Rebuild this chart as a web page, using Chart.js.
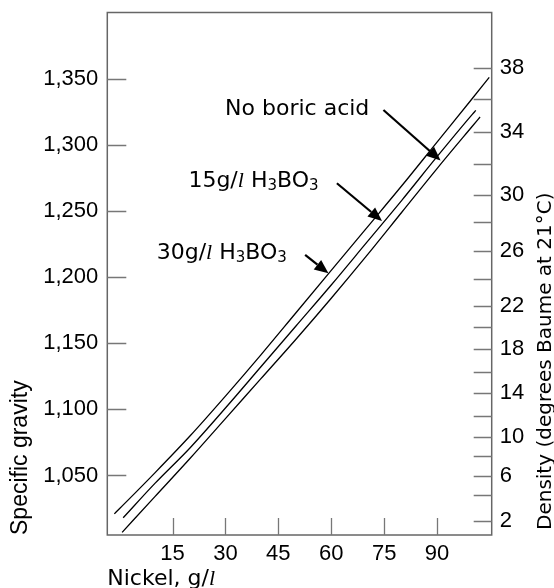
<!DOCTYPE html>
<html>
<head>
<meta charset="utf-8">
<script src="https://cdn.jsdelivr.net/npm/chart.js@4.4.3/dist/chart.umd.min.js"></script>
<style>
  html, body { margin: 0; padding: 0; background: #fff; }
  #wrap { width: 554px; height: 588px; position: relative; }
</style>
</head>
<body>
<div id="wrap"><canvas id="myChart"></canvas></div>
<script>
// nickel (g/l) and specific gravity
const nickelNone = [0.7, 10, 20, 30, 40, 50, 60, 70, 80, 90, 100, 102.2]
const sgNone = [1.007, 1.034, 1.063, 1.093, 1.123, 1.153, 1.184, 1.216, 1.249, 1.282, 1.314, 1.321]
const nickel15 = [1, 10, 20, 30, 40, 50, 60, 70, 80, 90, 100, 101]
const sg15 = [1.018, 1.044, 1.071, 1.101, 1.132, 1.163, 1.194, 1.226, 1.258, 1.291, 1.323, 1.326]
const nickel30 = [-1.5, 0, 10, 20, 30, 40, 50, 60, 70, 80, 90, 100, 104.8]
const sg30 = [1.021, 1.025, 1.052, 1.080, 1.110, 1.141, 1.173, 1.205, 1.237, 1.269, 1.302, 1.335, 1.351]

// axis ticks
const xTicks = [15, 30, 45, 60, 75, 90]
const sgTicks = [1.05, 1.10, 1.15, 1.20, 1.25, 1.30, 1.35]
// Baume ticks on the right axis and the specific gravity each one sits at
const baumeTicks = [2, 4, 6, 8, 10, 12, 14, 16, 18, 20, 22, 24, 26, 28, 30, 32, 34, 36, 38]
const baumeAtSg = [1.0158, 1.0350, 1.0496, 1.0649, 1.0791, 1.0952, 1.1126, 1.1284, 1.1456, 1.1620,
  1.1783, 1.1985, 1.2199, 1.2418, 1.2620, 1.2855, 1.3099, 1.3344, 1.3583]
const baumeLabels = [2, 6, 10, 14, 18, 22, 26, 30, 34, 38]

const NUM_FONT = {family: '"Liberation Sans", Arial, sans-serif', size: 22}
const TXT = '"DejaVu Sans", sans-serif'
const ITAL = 'italic 22px "Liberation Serif", serif'

// labels with arrows, placed in data units (nickel, specific gravity)
const notes = [
  {x: 29.9, y: 1.3225, from: [74.8, 1.3263], to: [91.0, 1.2881],
    parts: [['No boric acid']]},
  {x: 19.5, y: 1.2683, from: [61.6, 1.2709], to: [74.4, 1.2424],
    parts: [['15g/'], ['l', ITAL], [' H'], ['3', 'sub'], ['BO'], ['3', 'sub']]},
  {x: 10.5, y: 1.2137, from: [52.6, 1.2167], to: [59.2, 1.2028],
    parts: [['30g/'], ['l', ITAL], [' H'], ['3', 'sub'], ['BO'], ['3', 'sub']]}
]

function drawParts(ctx, x, y, parts) {
  ctx.textAlign = 'left'
  ctx.textBaseline = 'alphabetic'
  for (const [t, f] of parts) {
    let dy = 0
    if (f === 'sub') { ctx.font = '15px ' + TXT; dy = 3 }
    else ctx.font = f || ('22px ' + TXT)
    ctx.fillText(t, x, y + dy)
    x += ctx.measureText(t).width
  }
}

function arrow(ctx, x1, y1, x2, y2) {
  const a = Math.atan2(y2 - y1, x2 - x1), L = 14, W = 6
  const bx = x2 - L * Math.cos(a), by = y2 - L * Math.sin(a)
  ctx.beginPath()
  ctx.moveTo(x1, y1)
  ctx.lineTo(bx, by)
  ctx.stroke()
  ctx.beginPath()
  ctx.moveTo(x2, y2)
  ctx.lineTo(bx + W * Math.sin(a), by - W * Math.cos(a))
  ctx.lineTo(bx - W * Math.sin(a), by + W * Math.cos(a))
  ctx.closePath()
  ctx.fill()
}

const frame = {
  id: 'frame',
  afterDraw(chart) {
    const {ctx, chartArea: a, scales} = chart
    ctx.save()
    ctx.strokeStyle = '#666'
    ctx.lineWidth = 1.5
    ctx.strokeRect(a.left, a.top, a.right - a.left, a.bottom - a.top)

    // inward tick marks
    ctx.strokeStyle = '#777'
    ctx.lineWidth = 1.3
    ctx.beginPath()
    scales.x.ticks.forEach(t => {
      const p = Math.round(scales.x.getPixelForValue(t.value)) + 0.5
      ctx.moveTo(p, a.bottom); ctx.lineTo(p, a.bottom - 17)
    })
    scales.y.ticks.forEach(t => {
      const p = Math.round(scales.y.getPixelForValue(t.value)) + 0.5
      ctx.moveTo(a.left, p); ctx.lineTo(a.left + 19, p)
    })
    scales.yB.ticks.forEach(t => {
      const p = Math.round(scales.yB.getPixelForValue(t.value)) + 0.5
      ctx.moveTo(a.right, p); ctx.lineTo(a.right - 18, p)
    })
    ctx.stroke()

    // arrows and curve labels
    ctx.fillStyle = '#000'
    ctx.strokeStyle = '#000'
    ctx.lineWidth = 2.2
    notes.forEach(n => {
      const px = v => scales.x.getPixelForValue(v), py = v => scales.y.getPixelForValue(v)
      arrow(ctx, px(n.from[0]), py(n.from[1]), px(n.to[0]), py(n.to[1]))
      drawParts(ctx, px(n.x), py(n.y), n.parts)
    })

    // axis titles
    drawParts(ctx, a.left, 585, [['Nickel, g/'], ['l', ITAL]])
    ctx.save()
    ctx.translate(26.7, a.bottom)
    ctx.rotate(-Math.PI / 2)
    ctx.font = '23px "Liberation Sans", Arial, sans-serif'
    ctx.fillText('Specific gravity', 0, 0)
    ctx.restore()
    ctx.save()
    ctx.translate(551, 530)
    ctx.rotate(-Math.PI / 2)
    ctx.font = '20px ' + TXT
    ctx.fillText('Density (degrees Baume at 21°C)', 0, 0)
    ctx.restore()
    ctx.restore()
  }
}

const line = (label, xs, ys) => ({
  label: label,
  data: xs.map((x, i) => ({x: x, y: ys[i]})),
  showLine: true,
  borderColor: '#000',
  borderWidth: 1.3,
  pointRadius: 0,
  cubicInterpolationMode: 'monotone',
  fill: false
})

const noPad = s => { s.paddingTop = 0; s.paddingBottom = 0; s.paddingLeft = 0; s.paddingRight = 0 }
const noGrid = {display: false, drawTicks: false}

new Chart(document.getElementById('myChart'), {
  type: 'scatter',
  data: {
    datasets: [
      line('No boric acid', nickelNone, sgNone),
      line('15g/l H3BO3', nickel15, sg15),
      line('30g/l H3BO3', nickel30, sg30)
    ]
  },
  options: {
    responsive: true,
    maintainAspectRatio: false,
    animation: false,
    layout: {padding: {top: 12.5, left: 0, right: 0, bottom: 0}},
    plugins: {legend: {display: false}, tooltip: {enabled: false}},
    scales: {
      x: {
        type: 'linear', min: -3.5, max: 105.5,
        grid: noGrid, border: {display: false},
        afterBuildTicks: s => { s.ticks = xTicks.map(v => ({value: v})) },
        afterFit: s => { s.height = 53; noPad(s) },
        ticks: {font: NUM_FONT, color: '#000', padding: 6, maxRotation: 0, autoSkip: false}
      },
      y: {
        type: 'linear', position: 'left', min: 1.005, max: 1.4,
        grid: noGrid, border: {display: false},
        afterBuildTicks: s => { s.ticks = sgTicks.map(v => ({value: v})) },
        afterFit: s => { s.width = 107.3; noPad(s) },
        ticks: {font: NUM_FONT, color: '#000', padding: 9, autoSkip: false,
          callback: v => v.toFixed(3).replace('.', ',')}
      },
      yB: {
        type: 'linear', position: 'right', min: 1.005, max: 1.4,
        grid: noGrid, border: {display: false},
        afterBuildTicks: s => { s.ticks = baumeAtSg.map(v => ({value: v})) },
        afterFit: s => { s.width = 62.3; noPad(s) },
        ticks: {font: NUM_FONT, color: '#000', padding: 8, autoSkip: false,
          callback: (v, i) => baumeLabels.includes(baumeTicks[i]) ? String(baumeTicks[i]) : ''}
      }
    }
  },
  plugins: [frame]
})
</script>
</body>
</html>
